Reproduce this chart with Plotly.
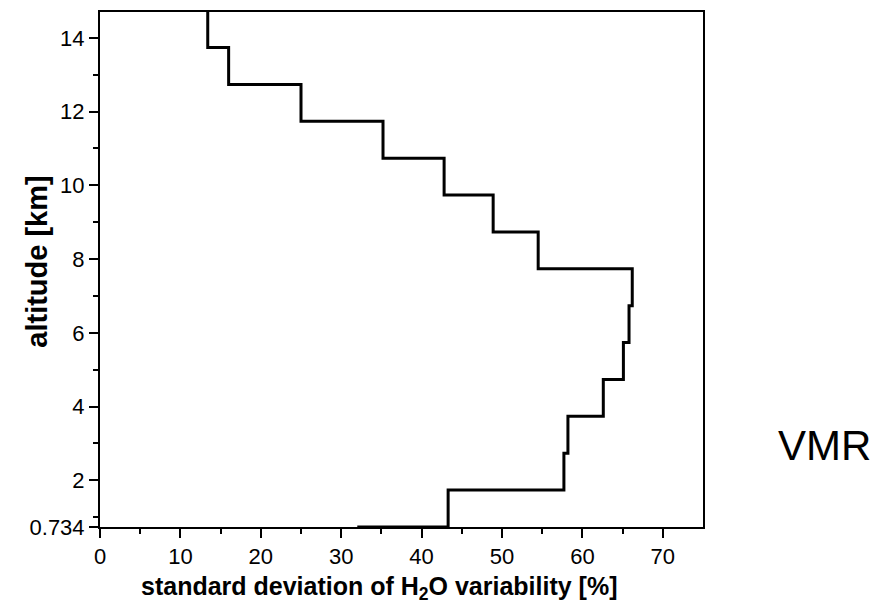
import plotly.graph_objects as go

# layer bottom altitudes [km] (step profile); last is above plot top
altitude_km = [0.734, 1.734, 2.734, 3.734, 4.734, 5.734, 6.734, 7.734,
               8.734, 9.734, 10.734, 11.734, 12.734, 13.734, 15.0]
# std deviation [%] of layer just below each altitude point
std_dev_pct = [32.0, 43.3, 57.7, 58.2, 62.6, 65.1, 65.8, 66.2,
               54.5, 48.9, 42.8, 35.2, 25.0, 16.0, 13.4]

x_ticks = [0, 10, 20, 30, 40, 50, 60, 70]
x_minor = [5, 15, 25, 35, 45, 55, 65]
y_ticks = [0.734, 2, 4, 6, 8, 10, 12, 14]
y_ticklabels = ["0.734", "2", "4", "6", "8", "10", "12", "14"]
y_minor = [1, 3, 5, 7, 9, 11, 13]

FONT = "Liberation Sans, Arial, sans-serif"

fig = go.Figure()
fig.add_trace(go.Scatter(
    x=std_dev_pct, y=altitude_km, mode="lines",
    line=dict(color="black", width=3, shape="hv"),
    showlegend=False, hoverinfo="skip",
))

axis_common = dict(
    showgrid=False, zeroline=False, showline=True, linecolor="black",
    linewidth=2, mirror=True, ticks="outside", tickwidth=2, ticklen=9,
    tickcolor="black", tickfont=dict(family=FONT, size=22, color="black"),
)

fig.update_xaxes(
    range=[0, 75], tickmode="array", tickvals=x_ticks,
    minor=dict(tickvals=x_minor, ticks="outside", ticklen=5, tickwidth=2,
               tickcolor="black"),
    **axis_common,
)
fig.update_yaxes(
    range=[0.734, 14.7], tickmode="array", tickvals=y_ticks,
    ticktext=y_ticklabels,
    minor=dict(tickvals=y_minor, ticks="outside", ticklen=5, tickwidth=2,
               tickcolor="black"),
    **axis_common,
)

fig.add_annotation(
    text="standard deviation of H<sub>2</sub>O variability [%]",
    xref="paper", yref="paper", x=0.4627, y=-0.118,
    xanchor="center", yanchor="middle", showarrow=False,
    font=dict(family=FONT, size=25, color="black", weight="bold"),
)
fig.add_annotation(
    text="altitude [km]", textangle=-90,
    xref="paper", yref="paper", x=-0.105, y=0.5145,
    xanchor="center", yanchor="middle", showarrow=False,
    font=dict(family=FONT, size=29, color="black", weight="bold"),
)
fig.add_annotation(
    text="VMR",
    xref="paper", yref="paper", x=1.2007, y=0.1586,
    xanchor="center", yanchor="middle", showarrow=False,
    font=dict(family=FONT, size=42, color="black"),
)

fig.update_layout(
    width=892, height=611,
    margin=dict(l=92, r=197, t=2, b=92),
    paper_bgcolor="white", plot_bgcolor="white",
    font=dict(family=FONT, color="black"),
)

fig.write_html("out.html")
